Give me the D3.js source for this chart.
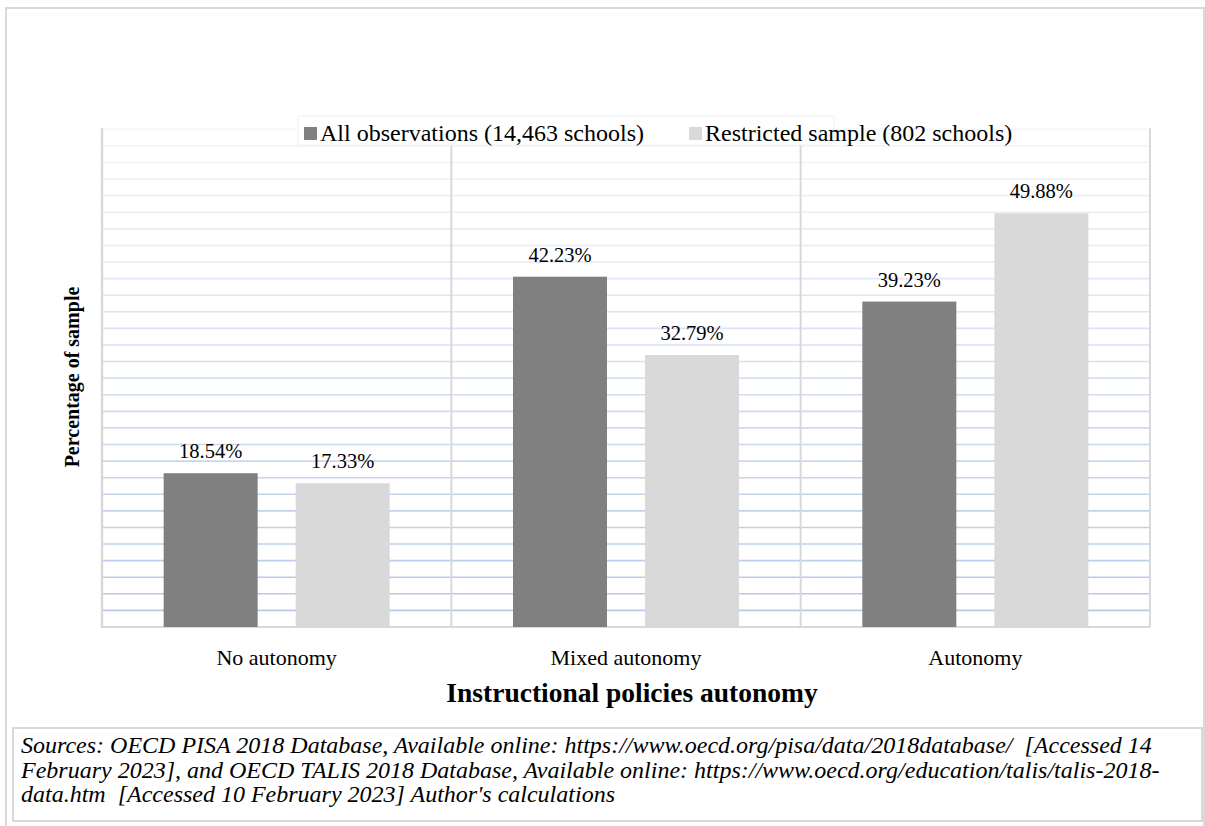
<!DOCTYPE html>
<html>
<head>
<meta charset="utf-8">
<script src="https://cdn.jsdelivr.net/npm/d3@7"></script>
<style>
  html, body { margin: 0; padding: 0; background: #fff; }
  svg text { font-family: "Liberation Serif", "Times New Roman", serif; }
</style>
</head>
<body>
<svg id="chart" width="1205" height="826"></svg>
<script>
// Share of schools by instructional policies autonomy level
const categories = ["No autonomy", "Mixed autonomy", "Autonomy"];
const seriesNames = ["All observations (14,463 schools)", "Restricted sample (802 schools)"];
const allObservations = [18.54, 42.23, 39.23];
const restrictedSample = [17.33, 32.79, 49.88];
const seriesColors = ["#808080", "#d9d9d9"];
const gridTicks = d3.range(0, 61, 2);
const sourceLines = [
  "Sources: OECD PISA 2018 Database, Available online: https://www.oecd.org/pisa/data/2018database/  [Accessed 14",
  "February 2023], and OECD TALIS 2018 Database, Available online: https://www.oecd.org/education/talis/talis-2018-",
  "data.htm  [Accessed 10 February 2023] Author's calculations"
];

const FONT = "'Liberation Serif', 'Times New Roman', serif";
const svg = d3.select("#chart");
const plot = { left: 102, right: 1150, top: 129.3, bottom: 627 };

// Outer frame of the figure
svg.append("rect")
  .attr("x", 6).attr("y", 8).attr("width", 1198).attr("height", 830)
  .attr("fill", "#fff").attr("stroke", "#d9d9d9").attr("stroke-width", 2);

const x = d3.scaleBand().domain(categories).range([plot.left, plot.right])
  .paddingInner(0).paddingOuter(0);
const xInner = d3.scaleBand().domain([0, 1]).range([0, x.bandwidth()])
  .paddingInner(0.288).paddingOuter(0.467);
const y = d3.scaleLinear().domain([0, 60]).range([plot.bottom, plot.top]);

// Horizontal gridlines, fading toward the top
const fade = d3.scaleLinear().domain([0, 60]).range([1, 0.15]);
svg.append("g").selectAll("line")
  .data(gridTicks.filter(d => d > 0))
  .join("line")
  .attr("x1", plot.left).attr("x2", plot.right)
  .attr("y1", d => y(d)).attr("y2", d => y(d))
  .attr("stroke", "#b4c7e7")
  .attr("stroke-opacity", d => fade(d))
  .attr("stroke-width", 1.6);

// Category separators
svg.append("g").selectAll("line")
  .data(categories.slice(1))
  .join("line")
  .attr("x1", d => x(d)).attr("x2", d => x(d))
  .attr("y1", plot.top).attr("y2", plot.bottom)
  .attr("stroke", "#d9d9d9").attr("stroke-width", 2);

// Axis frame lines
svg.append("line")
  .attr("x1", plot.left).attr("x2", plot.left)
  .attr("y1", plot.top - 1).attr("y2", plot.bottom + 1)
  .attr("stroke", "#d9d9d9").attr("stroke-width", 2.5);
svg.append("line")
  .attr("x1", plot.right).attr("x2", plot.right)
  .attr("y1", plot.top - 1).attr("y2", plot.bottom)
  .attr("stroke", "#d9d9d9").attr("stroke-width", 2);
svg.append("line")
  .attr("x1", plot.left).attr("x2", plot.right)
  .attr("y1", plot.bottom).attr("y2", plot.bottom)
  .attr("stroke", "#d9d9d9").attr("stroke-width", 2);

// Bars
const seriesValues = [allObservations, restrictedSample];
const barData = [];
categories.forEach((c, i) => {
  seriesValues.forEach((vals, s) => barData.push({ cat: c, s, v: vals[i] }));
});

svg.append("g").selectAll("rect")
  .data(barData)
  .join("rect")
  .attr("x", d => x(d.cat) + xInner(d.s))
  .attr("width", xInner.bandwidth())
  .attr("y", d => y(d.v))
  .attr("height", d => y(0) - y(d.v))
  .attr("fill", d => seriesColors[d.s]);

// Value labels
svg.append("g").selectAll("text")
  .data(barData)
  .join("text")
  .attr("x", d => x(d.cat) + xInner(d.s) + xInner.bandwidth() / 2)
  .attr("y", d => y(d.v) - 15)
  .attr("text-anchor", "middle")
  .style("font-family", FONT)
  .attr("font-size", 20.5)
  .attr("fill", "#000")
  .text(d => d.v.toFixed(2) + "%");

// Category labels
svg.append("g").selectAll("text")
  .data(categories)
  .join("text")
  .attr("x", d => x(d) + x.bandwidth() / 2)
  .attr("y", 665)
  .attr("text-anchor", "middle")
  .style("font-family", FONT)
  .attr("font-size", 22)
  .text(d => d);

// Axis titles
svg.append("text")
  .attr("x", 632).attr("y", 702)
  .attr("text-anchor", "middle")
  .style("font-family", FONT)
  .attr("font-size", 27.5).attr("font-weight", "bold")
  .text("Instructional policies autonomy");

svg.append("text")
  .attr("transform", "translate(79,377) rotate(-90)")
  .attr("text-anchor", "middle")
  .style("font-family", FONT)
  .attr("font-size", 20).attr("font-weight", "bold")
  .text("Percentage of sample");

// Legend
const legend = svg.append("g");
legend.append("rect")
  .attr("x", 298).attr("y", 116).attr("width", 536).attr("height", 29)
  .attr("fill", "#fff").attr("stroke", "#f2f2f2").attr("stroke-width", 1);
const legendX = [304, 689];
seriesNames.forEach((name, i) => {
  legend.append("rect")
    .attr("x", legendX[i]).attr("y", 127).attr("width", 13).attr("height", 13)
    .attr("fill", seriesColors[i]);
  legend.append("text")
    .attr("x", legendX[i] + 16).attr("y", 141)
    .style("font-family", FONT)
    .attr("font-size", 24)
    .text(name);
});

// Source note
svg.append("rect")
  .attr("x", 13).attr("y", 728).attr("width", 1189).attr("height", 93)
  .attr("fill", "#fff").attr("stroke", "#d9d9d9").attr("stroke-width", 2);
svg.append("g").selectAll("text")
  .data(sourceLines)
  .join("text")
  .attr("x", 21)
  .attr("y", (d, i) => 753 + i * 24.5)
  .style("font-family", FONT)
  .style("white-space", "pre")
  .attr("font-size", 24).attr("font-style", "italic")
  .text(d => d);
</script>
</body>
</html>
